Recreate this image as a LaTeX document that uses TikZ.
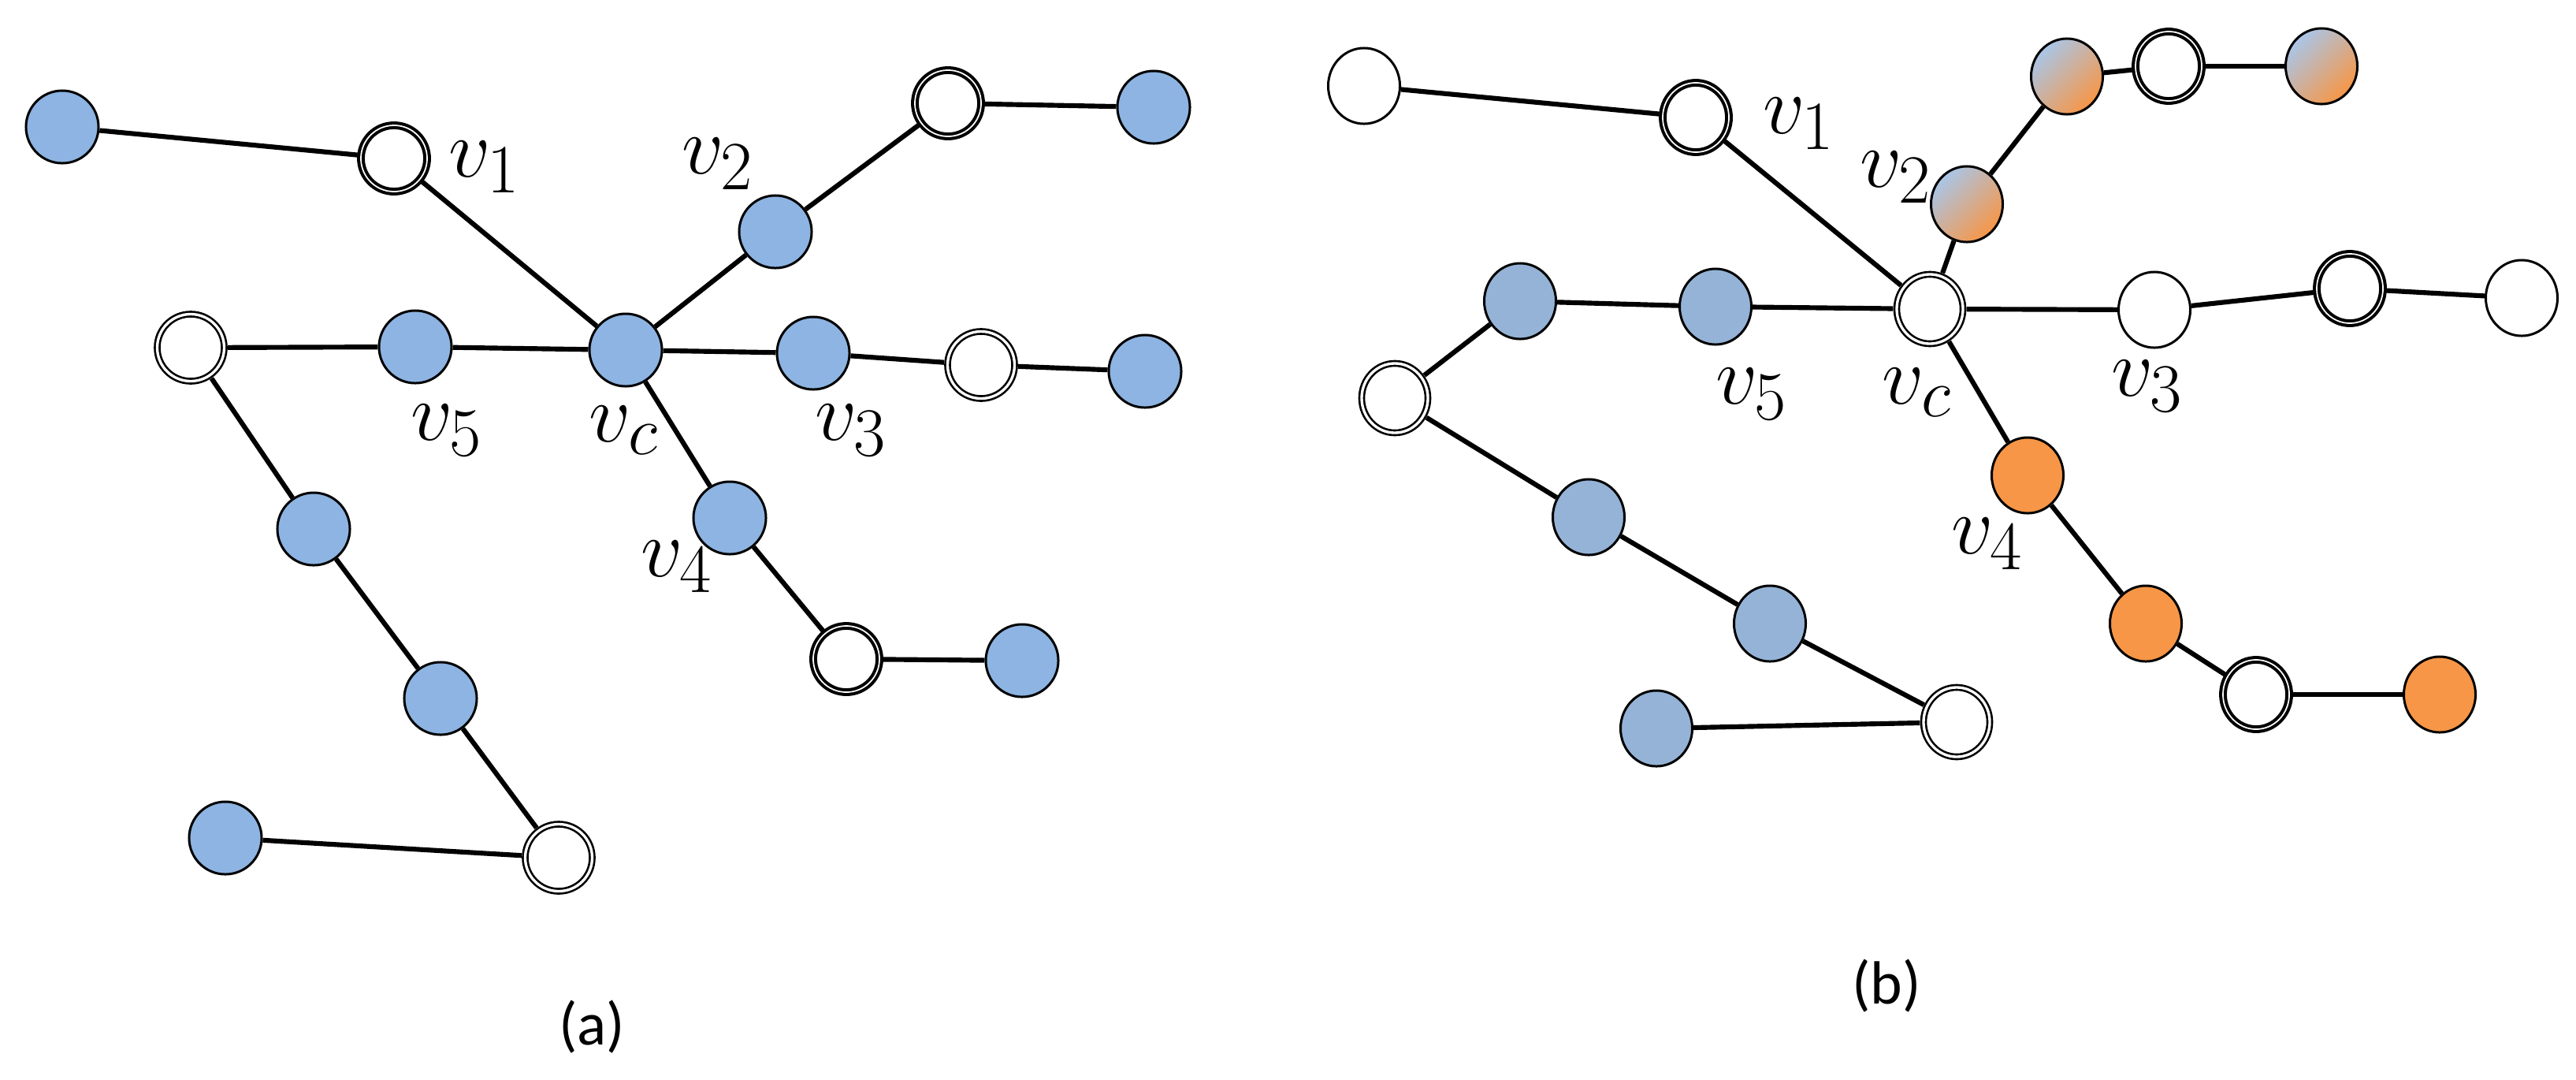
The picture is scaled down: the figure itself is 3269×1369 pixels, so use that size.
\documentclass[tikz,border=0pt]{standalone}
\usepackage{fontspec}
\newfontfamily\capfont{Carlito}
\usetikzlibrary{shapes.geometric}
\definecolor{blueA}{HTML}{8DB4E2}
\definecolor{blueB}{HTML}{95B3D7}
\definecolor{orangeB}{HTML}{F79646}
\definecolor{mixblue}{HTML}{A9C6E8}
\begin{document}
\begin{tikzpicture}[x=0.01cm, y=-0.01cm,
  lab/.style={font=\Huge, scale=1.2},
  dot/.style={circle, draw, line width=0.85pt, minimum size=0.92cm, inner sep=0pt},
  bdot/.style={dot, fill=blueA},
  ring/.style={circle, draw, line width=0.75pt, double=white, double distance=0.95pt,
    minimum size=0.85cm, inner sep=0pt, outer sep=1.3pt},
  hring/.style={ring, line width=1.15pt, double distance=0.5pt, minimum size=0.84cm},
  egg/.style={ellipse, draw, line width=0.85pt, minimum width=0.91cm, minimum height=0.96cm, inner sep=0pt},
  eblue/.style={egg, fill=blueB},
  eorange/.style={egg, fill=orangeB},
  emix/.style={egg, top color=mixblue, bottom color=orangeB, shading angle=45},
  ering/.style={ellipse, draw, line width=0.75pt, double=white, double distance=0.95pt,
    minimum width=0.84cm, minimum height=0.88cm, inner sep=0pt, outer sep=1.3pt},
  ehring/.style={ering, line width=1.15pt, double distance=0.5pt},
  link/.style={line width=1.75pt},
  caplabel/.style={font=\capfont\fontsize{22}{26}\selectfont}]
  \useasboundingbox (0,0) rectangle (3269,1369);

  % (a)
  \node[bdot]  (aw1)  at (79,161)   {};
  \node[hring] (av1)  at (500,201)  {};
  \node[bdot]  (av2)  at (984,294)  {};
  \node[hring] (aw2)  at (1203,131) {};
  \node[bdot]  (aw3)  at (1464,136) {};
  \node[bdot]  (avc)  at (794,444)  {};
  \node[bdot]  (av3)  at (1032,448) {};
  \node[ring]  (aw4)  at (1245,463) {};
  \node[bdot]  (aw5)  at (1453,471) {};
  \node[bdot]  (av5)  at (527,440)  {};
  \node[ring]  (aw6)  at (242,441)  {};
  \node[bdot]  (aw7)  at (398,671)  {};
  \node[bdot]  (aw8)  at (559,886)  {};
  \node[ring]  (aw9)  at (709,1088) {};
  \node[bdot]  (aw10) at (286,1063) {};
  \node[bdot]  (av4)  at (926,657)  {};
  \node[hring] (aw11) at (1074,836) {};
  \node[bdot]  (aw12) at (1297,838) {};

  \foreach \s/\t in {aw1/av1, av1/avc, avc/av2, av2/aw2, aw2/aw3, avc/av3, av3/aw4, aw4/aw5,
                     avc/av5, av5/aw6, aw6/aw7, aw7/aw8, aw8/aw9, aw9/aw10, avc/av4, av4/aw11, aw11/aw12}
    \draw[link] (\s) -- (\t);

  \node[lab] (lav1) at (615,212) {$v_1$};
  \node[lab] (lav2) at (911,208) {$v_2$};
  \node[lab] (lav5) at (567,546) {$v_5$};
  \node[lab] (lavc) at (792,546) {$v_c$};
  \node[lab] (lav3) at (1080,546) {$v_3$};
  \node[lab] (lav4) at (859,719) {$v_4$};
  \node[caplabel] (capa) at (751,1303) {(a)};

  % (b)
  \node[egg]    (bw1)  at (1731,109) {};
  \node[ehring] (bv1)  at (2152,149) {};
  \node[emix]   (bv2)  at (2496,259) {};
  \node[emix]   (bw2)  at (2623,97)  {};
  \node[ehring] (bw3)  at (2752,84)  {};
  \node[emix]   (bw4)  at (2946,84)  {};
  \node[ering]  (bvc)  at (2449,392) {};
  \node[egg]    (bv3)  at (2734,393) {};
  \node[ehring] (bw5)  at (2982,366) {};
  \node[egg]    (bw6)  at (3200,378) {};
  \node[eblue]  (bv5)  at (2177,389) {};
  \node[eblue]  (bw7)  at (1929,382) {};
  \node[ering]  (bw8)  at (1770,505) {};
  \node[eblue]  (bw9)  at (2016,656) {};
  \node[eblue]  (bw10) at (2246,791) {};
  \node[ering]  (bw11) at (2483,916) {};
  \node[eblue]  (bw12) at (2102,924) {};
  \node[eorange] (bv4)  at (2573,603) {};
  \node[eorange] (bw13) at (2723,791) {};
  \node[ehring]  (bw14) at (2863,881) {};
  \node[eorange] (bw15) at (3096,881) {};

  \foreach \s/\t in {bw1/bv1, bv1/bvc, bvc/bv2, bv2/bw2, bw2/bw3, bw3/bw4, bvc/bv3, bv3/bw5, bw5/bw6,
                     bvc/bv5, bv5/bw7, bw7/bw8, bw8/bw9, bw9/bw10, bw10/bw11, bw11/bw12,
                     bvc/bv4, bv4/bw13, bw13/bw14, bw14/bw15}
    \draw[link] (\s) -- (\t);

  \node[lab] (lbv1) at (2283,157) {$v_1$};
  \node[lab] (lbv2) at (2406,225) {$v_2$};
  \node[lab] (lbv5) at (2223,500) {$v_5$};
  \node[lab] (lbvc) at (2433,498) {$v_c$};
  \node[lab] (lbv3) at (2725,490) {$v_3$};
  \node[lab] (lbv4) at (2522,690) {$v_4$};
  \node[caplabel] (capb) at (2394,1251) {(b)};
\end{tikzpicture}
\end{document}
